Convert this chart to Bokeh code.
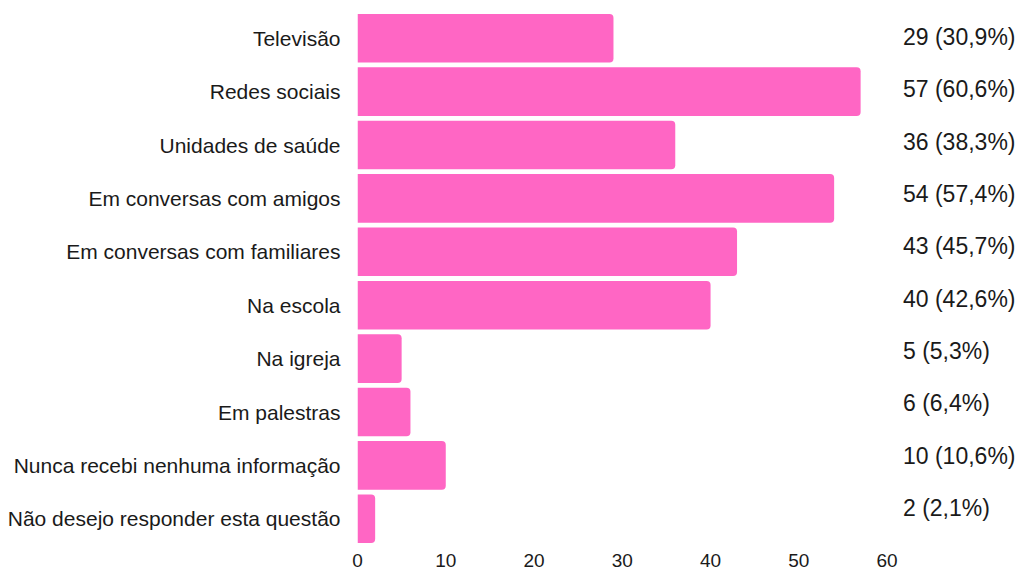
from bokeh.plotting import figure
from bokeh.models import Range1d, FixedTicker, ColumnDataSource
from bokeh.embed import file_html
from bokeh.resources import INLINE
from bokeh.core.properties import value

categories = [
    "Televisão",
    "Redes sociais",
    "Unidades de saúde",
    "Em conversas com amigos",
    "Em conversas com familiares",
    "Na escola",
    "Na igreja",
    "Em palestras",
    "Nunca recebi nenhuma informação",
    "Não desejo responder esta questão",
]
counts = [29, 57, 36, 54, 43, 40, 5, 6, 10, 2]
percents = ["30,9", "60,6", "38,3", "57,4", "45,7", "42,6", "5,3", "6,4", "10,6", "2,1"]
x_ticks = [0, 10, 20, 30, 40, 50, 60]

n = len(categories)
idx = list(range(n))
labels = [f"{c} ({p}%)" for c, p in zip(counts, percents)]

src = ColumnDataSource(dict(y=idx, right=counts, label=labels, cat=categories))

p = figure(width=1019, height=569, output_backend="svg", toolbar_location=None,
           x_range=Range1d(0, 75), y_range=Range1d(n - 0.5, -0.5),
           min_border_left=357, min_border_right=0, min_border_top=11, min_border_bottom=0)
p.extra_y_ranges = {"lab": Range1d(start=9.72, end=-0.49)}

p.hbar(y="y", left=0, right="right", height=0.91, source=src,
       fill_color="#FF66C4", line_color=None, border_radius=(0, 4, 4, 0))

p.text(x=61.8, y="y", text="label", source=src, y_range_name="lab",
       text_font=value("Liberation Sans"), text_font_size="23px",
       text_baseline="middle", text_align="left", text_color="#1a1a1a")

p.yaxis.ticker = FixedTicker(ticks=idx)
p.yaxis.major_label_overrides = {i: c for i, c in zip(idx, categories)}
p.yaxis.major_label_text_font = "Liberation Sans"
p.yaxis.major_label_text_font_size = "21px"
p.yaxis.major_label_text_color = "#1a1a1a"
p.yaxis.major_label_standoff = 17
p.yaxis.major_tick_out = 0
p.yaxis.major_tick_in = 0
p.yaxis.axis_line_color = None
p.yaxis.major_tick_line_color = None
p.yaxis.minor_tick_line_color = None

p.xaxis.ticker = FixedTicker(ticks=x_ticks)
p.xaxis.major_label_text_font = "Liberation Sans"
p.xaxis.major_label_text_font_size = "19px"
p.xaxis.major_label_text_color = "#1a1a1a"
p.xaxis.major_label_standoff = 8
p.xaxis.major_tick_out = 0
p.xaxis.major_tick_in = 0
p.xaxis.axis_line_color = None
p.xaxis.major_tick_line_color = None
p.xaxis.minor_tick_line_color = None

p.xgrid.grid_line_color = None
p.ygrid.grid_line_color = None
p.outline_line_color = None

open("out.html", "w").write(file_html(p, INLINE))
